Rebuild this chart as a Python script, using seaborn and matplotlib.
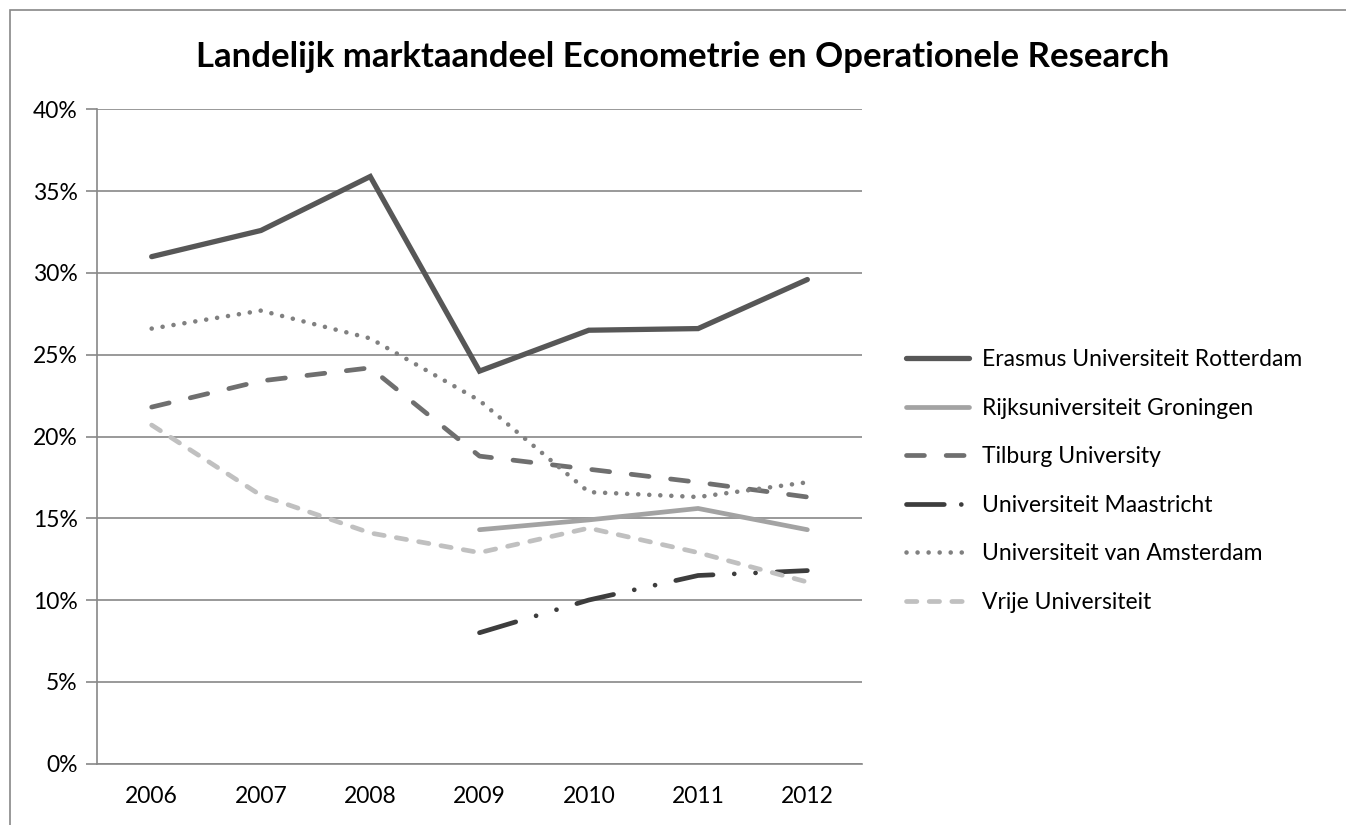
import numpy as np
import matplotlib
matplotlib.use("Agg")
import matplotlib.pyplot as plt
import matplotlib.patches as mpatches
import seaborn as sns

# Data (market share, %)
years = ["2006", "2007", "2008", "2009", "2010", "2011", "2012"]
erasmus = [31.0, 32.6, 35.9, 24.0, 26.5, 26.6, 29.6]
groningen = [np.nan, np.nan, np.nan, 14.3, 14.9, 15.6, 14.3]
tilburg = [21.8, 23.4, 24.2, 18.8, 18.0, 17.2, 16.3]
maastricht = [np.nan, np.nan, np.nan, 8.0, 10.0, 11.5, 11.8]
amsterdam = [26.6, 27.7, 26.0, 22.2, 16.6, 16.3, 17.2]
vrije = [20.7, 16.4, 14.1, 12.9, 14.4, 12.9, 11.1]

series = [
    ("Erasmus Universiteit Rotterdam", erasmus),
    ("Rijksuniversiteit Groningen", groningen),
    ("Tilburg University", tilburg),
    ("Universiteit Maastricht", maastricht),
    ("Universiteit van Amsterdam", amsterdam),
    ("Vrije Universiteit", vrije),
]

colors = ["#575757", "#a3a3a3", "#6f6f6f", "#3d3d3d", "#808080", "#c0c0c0"]
dashes = [None, None, (3.8, 4.6), (8, 4.5, 0.01, 4.5, 0.01, 4.5), (0.01, 2.4), (2.2, 2.6)]
leg_dashes = [None, None, (3.8, 4.6), (8, 3.6, 0.01, 10), (0.01, 2.4), (2.2, 2.6)]
widths = [3.8, 3.4, 3.4, 3.4, 3.3, 3.4]

sns.set_style("white")
plt.rcParams["font.family"] = ["Lato", "DejaVu Sans"]
plt.rcParams["text.color"] = "black"
plt.rcParams["xtick.color"] = "black"
plt.rcParams["ytick.color"] = "black"

fig = plt.figure(figsize=(13.46, 8.25), dpi=100)
ax = fig.add_axes([0.0721, 0.0745, 0.5683, 0.7928])

x = np.arange(len(years))
for (name, vals), c, d, w in zip(series, colors, dashes, widths):
    v = np.array(vals, dtype=float)
    m = ~np.isnan(v)
    sns.lineplot(x=x[m], y=v[m], ax=ax, color=c, linewidth=w, label=name)
    line = ax.get_lines()[-1]
    line.set_solid_capstyle("round")
    line.set_dash_capstyle("round")
    line.set_solid_joinstyle("miter")
    if d is not None:
        line.set_dashes(d)

ax.set_xlim(-0.5, 6.5)
ax.set_ylim(0, 40)
ax.set_yticks(np.arange(0, 41, 5))
ax.set_yticklabels([f"{t}%" for t in range(0, 41, 5)])
ax.set_xticks(x)
ax.set_xticklabels(years)
ax.set_xticks(np.arange(-0.5, 6.6, 1), minor=True)
ax.tick_params(axis="x", which="major", length=0, pad=16, labelsize=16.5, labelcolor="black")
ax.tick_params(axis="x", which="minor", length=7, color="#888888", width=1.2, direction="out")
ax.tick_params(axis="y", length=8, color="#888888", width=1.2, pad=6, labelsize=16.5,
               left=True, labelcolor="black")
ax.yaxis.grid(True, color="#888888", linewidth=1.2)
ax.set_axisbelow(True)
for s in ["top", "right"]:
    ax.spines[s].set_visible(False)
for s in ["left", "bottom"]:
    ax.spines[s].set_color("#888888")
    ax.spines[s].set_linewidth(1.2)
ax.set_xlabel("")
ax.set_ylabel("")

leg = ax.legend(loc="center left", bbox_to_anchor=(1.03, 0.432), frameon=False,
                fontsize=16.5, handlelength=2.75, handletextpad=0.6, labelspacing=1.2)
for h, d in zip(leg.get_lines(), leg_dashes):
    h.set_dash_capstyle("round")
    h.set_solid_capstyle("round")
    if d is not None:
        h.set_dashes(d)
for t in leg.get_texts():
    t.set_color("black")

fig.text(0.5075, 0.931, "Landelijk marktaandeel Econometrie en Operationele Research",
         ha="center", va="center", fontsize=25, fontweight="bold", color="black")

# chart border (left and top visible)
fig.add_artist(mpatches.Rectangle((10 / 1346, -0.1), 1.2, 1.1 - 10 / 825,
                                  transform=fig.transFigure, fill=False,
                                  edgecolor="#888888", linewidth=1.2))

fig.savefig("out.png", dpi=100)
